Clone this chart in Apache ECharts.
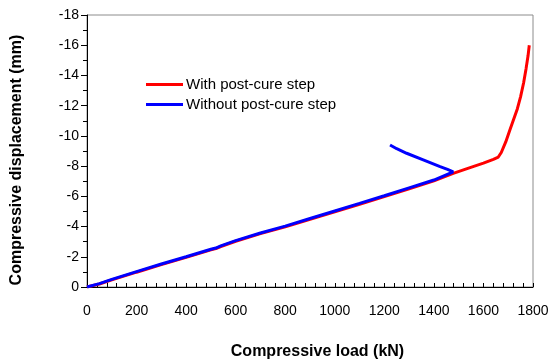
<!DOCTYPE html>
<html>
<head>
<meta charset="utf-8">
<script src="https://cdn.jsdelivr.net/npm/echarts@6/dist/echarts.min.js"></script>
<style>html,body{margin:0;padding:0;background:#fff;}#c{width:553px;height:362px;}</style>
</head>
<body>
<div id="c"></div>
<script>
const seriesNames = ['With post-cure step', 'Without post-cure step'];
const xTicks = [0, 200, 400, 600, 800, 1000, 1200, 1400, 1600, 1800];
const yTicks = [0, -2, -4, -6, -8, -10, -12, -14, -16, -18];
const withLoad = [0, 50, 100, 200, 300, 400, 500, 520, 540, 600, 700, 800, 900, 1000, 1100, 1200, 1300, 1400, 1478, 1546, 1600, 1640, 1660, 1672, 1690, 1707, 1722, 1737, 1750, 1762, 1772, 1780, 1785];
const withDisp = [0, -0.2, -0.47, -0.98, -1.48, -1.96, -2.46, -2.54, -2.68, -3.03, -3.53, -3.98, -4.48, -4.98, -5.48, -5.98, -6.5, -7.02, -7.52, -7.9, -8.2, -8.45, -8.6, -8.9, -9.6, -10.4, -11.1, -11.8, -12.6, -13.5, -14.45, -15.3, -16.0];
const withoutLoad = [0, 50, 100, 200, 300, 400, 500, 520, 540, 600, 700, 800, 900, 1000, 1100, 1200, 1300, 1400, 1478, 1455, 1425, 1357, 1290, 1250, 1223];
const withoutDisp = [0, -0.22, -0.5, -1.02, -1.52, -2.0, -2.5, -2.58, -2.72, -3.07, -3.57, -4.03, -4.53, -5.03, -5.53, -6.04, -6.56, -7.08, -7.62, -7.78, -7.96, -8.41, -8.85, -9.15, -9.4];

const toPairs = (xs, ys) => xs.map((x, i) => [x, ys[i]]);

const chart = echarts.init(document.getElementById('c'), null, {renderer: 'canvas'});
const font = 'Liberation Sans, Arial, sans-serif';
chart.setOption({
  animation: false,
  backgroundColor: '#fff',
  grid: {left: 87, right: 20, top: 15, bottom: 75, show: true, borderColor: '#8c8c8c', borderWidth: 1, containLabel: false, outerBoundsMode: 'none'},
  legend: {
    left: 141, top: 72, orient: 'vertical', itemGap: 5,
    itemWidth: 37, itemHeight: 3, icon: 'rect',
    textStyle: {fontFamily: font, fontSize: 15, color: '#000', padding: [0, 0, 0, -2]},
    data: seriesNames
  },
  xAxis: {
    type: 'value', min: xTicks[0], max: xTicks[xTicks.length - 1], interval: 200,
    name: 'Compressive load (kN)', nameLocation: 'middle', nameGap: 57,
    nameTextStyle: {fontFamily: font, fontSize: 16, fontWeight: 'bold', color: '#000', padding: [0, 0, 0, 15]},
    axisLine: {lineStyle: {color: '#000', width: 1}},
    axisTick: {inside: true, length: 4, lineStyle: {color: '#000'}},
    minorTick: {show: true, splitNumber: 5, length: 4, lineStyle: {color: '#000'}},
    splitLine: {show: false},
    axisLabel: {fontFamily: font, fontSize: 14, color: '#000', margin: 17, formatter: v => String(v)}
  },
  yAxis: {
    type: 'value', min: yTicks[yTicks.length - 1], max: yTicks[0], interval: 2, inverse: true,
    name: 'Compressive displacement (mm)', nameLocation: 'middle', nameGap: 62, nameRotate: 90,
    nameTextStyle: {fontFamily: font, fontSize: 16, fontWeight: 'bold', color: '#000', padding: [0, 18, 0, 0]},
    axisLine: {show: true, lineStyle: {color: '#000', width: 1}},
    axisTick: {show: true, inside: false, length: 6, lineStyle: {color: '#000'}},
    minorTick: {show: true, splitNumber: 2, length: 4, lineStyle: {color: '#000'}},
    splitLine: {show: false},
    axisLabel: {fontFamily: font, fontSize: 14, color: '#000', margin: 8, formatter: v => String(v)}
  },
  series: [
    {name: seriesNames[0], type: 'line', data: toPairs(withLoad, withDisp), showSymbol: false, symbol: 'none',
     lineStyle: {color: '#ff0000', width: 3}, itemStyle: {color: '#ff0000'}, z: 2},
    {name: seriesNames[1], type: 'line', data: toPairs(withoutLoad, withoutDisp), showSymbol: false, symbol: 'none',
     lineStyle: {color: '#0000ff', width: 3}, itemStyle: {color: '#0000ff'}, z: 3}
  ]
});
</script>
</body>
</html>
